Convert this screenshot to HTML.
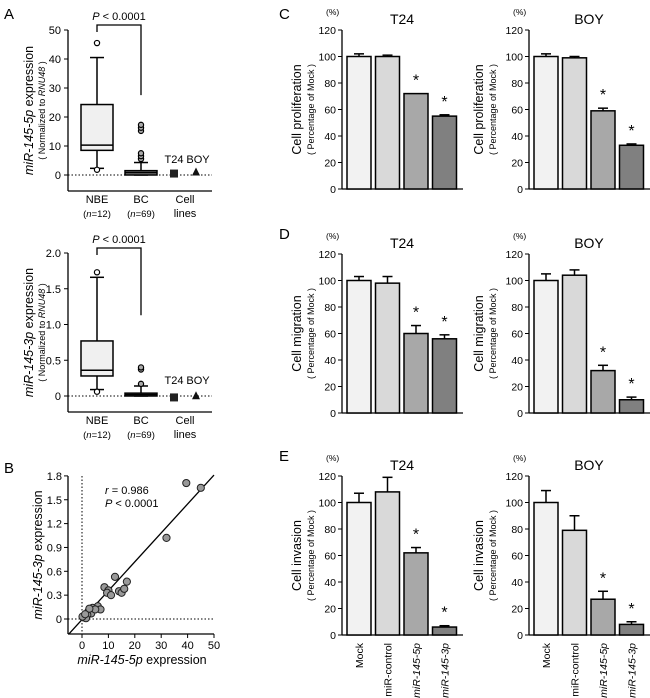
<!DOCTYPE html>
<html><head><meta charset="utf-8"><style>
body{margin:0;background:#fff}
svg{display:block;font-family:"Liberation Sans",Arial,sans-serif}
</style></head><body>
<svg id="fig" width="650" height="698" viewBox="0 0 650 698">
<text x="4" y="19" font-size="15">A</text>
<text x="4" y="473" font-size="15">B</text>
<text x="279" y="19" font-size="15">C</text>
<text x="279" y="239" font-size="15">D</text>
<text x="279" y="461" font-size="15">E</text>
</svg>
<script>
// ---- Panel A data ----
const boxGroups = ['NBE','BC'];
const box5p = [[2.3,8.5,10.3,24.3,40.5],[0,0,0.8,1.5,4.3]];
const outl5p = [[45.5,1.8],[5.5,6.5,7.5,15.2,16.3,17.3]];
const box3p = [[0.09,0.28,0.36,0.77,1.66],[0,0,0.02,0.04,0.14]];
const outl3p = [[1.73,0.06],[0.17,0.37,0.4]];
const cell5p = [0.5,1.2];
const cell3p = [-0.02,0.01];
const ticks5p = [0,10,20,30,40,50];
const ticks3p = ['0','0.5','1.0','1.5','2.0'];
// ---- Panel B data ----
const scatX = [39.5,45,32,12.5,8.5,10,9.5,11,14,15,16,17,6,7,4,3,2.5,3.5,2,1,0.5,1.5,0.2,5,2.8,1.2];
const scatY = [1.71,1.65,1.02,0.53,0.40,0.36,0.33,0.30,0.35,0.33,0.38,0.47,0.16,0.12,0.14,0.12,0.10,0.07,0.05,0.03,0.02,0.01,0.03,0.12,0.13,0.06];
const scatXTicks = [0,10,20,30,40,50];
const scatYTicks = ['0','0.3','0.6','0.9','1.2','1.5','1.8'];
// ---- Panels C-E data ----
const barCats = ['Mock','miR-control','miR-145-5p','miR-145-3p'];
const barTicks = [0,20,40,60,80,100,120];
const profT24 = [100,100,72,55], profT24Err = [2,1,0,1];
const profBOY = [100,99,59,33], profBOYErr = [2,1,2,1];
const migT24 = [100,98,60,56], migT24Err = [3,5,6,3];
const migBOY = [100,104,32,10], migBOYErr = [5,4,4,2];
const invT24 = [100,108,62,6], invT24Err = [7,11,4,1];
const invBOY = [100,79,27,8], invBOYErr = [9,11,6,2];
const starFlags = [0,0,1,1];

const NS='http://www.w3.org/2000/svg';
const svg=document.getElementById('fig');
function mk(tag,attrs,parent){const e=document.createElementNS(NS,tag);for(const k in attrs)e.setAttribute(k,attrs[k]);(parent||svg).appendChild(e);return e;}
function txt(x,y,s,size,anchor,parent,extra){const t=mk('text',Object.assign({x:x,y:y,'font-size':size,'text-anchor':anchor||'start'},extra||{}),parent);t.innerHTML=s;return t;}

// ---- Box panel ----
function boxPanel(name,top,y0,yMax,yTop,ticks,tickVals,boxes,outs,cells,ylab){
  const g=mk('g',{});
  
  
  const ax=68, axEnd=212, y0px=y0, yTopPx=yTop;
  const Y=v=>y0px-(v/yMax)*(y0px-yTopPx);
  const xc=[97,141];
  const axisBottom=y0px+16;
  mk('line',{x1:ax,y1:yTopPx,x2:ax,y2:axisBottom,stroke:'#000','stroke-width':1.3},g);
  mk('line',{x1:ax,y1:axisBottom,x2:axEnd,y2:axisBottom,stroke:'#000','stroke-width':1.3},g);
  tickVals.forEach((v,i)=>{const y=Y(v);
    const tk=mk('line',{x1:ax-4,y1:y,x2:ax,y2:y,stroke:'#000'},g);
    
    
    txt(ax-7,y+4,ticks[i],11,'end',g);});
  mk('line',{x1:ax,y1:Y(0),x2:axEnd,y2:Y(0),stroke:'#000','stroke-dasharray':'1.5,2'},g);
  boxes.forEach((b,i)=>{const c=xc[i],w=16;
    const bg=mk('g',{},g);
    
    
    mk('line',{x1:c,y1:Y(b[0]),x2:c,y2:Y(b[4]),stroke:'#000','stroke-width':1.5},bg);
    mk('line',{x1:c-7,y1:Y(b[4]),x2:c+7,y2:Y(b[4]),stroke:'#000','stroke-width':1.5},bg);
    mk('line',{x1:c-7,y1:Y(b[0]),x2:c+7,y2:Y(b[0]),stroke:'#000','stroke-width':1.5},bg);
    mk('rect',{x:c-w,y:Y(b[3]),width:2*w,height:Math.max(Y(b[1])-Y(b[3]),2.5),fill:i?'#888':'#f0f0f0',stroke:'#000','stroke-width':1.5},bg);
    mk('line',{x1:c-w,y1:Y(b[2]),x2:c+w,y2:Y(b[2]),stroke:i?'#000':'#000','stroke-width':1.5},bg);
    outs[i].forEach(v=>{const o=mk('circle',{cx:c,cy:Y(v),r:2.6,fill:i?'#aaa':'#fff',stroke:'#000','stroke-width':1.2},bg);
      
      });
  });
  const sq=mk('rect',{x:170,y:Y(cells[0])-4,width:8,height:8,fill:'#222'},g);
  
  
  const tri=mk('polygon',{points:`192,${Y(cells[1])+4} 200,${Y(cells[1])+4} 196,${Y(cells[1])-4}`,fill:'#111'},g);
  
  
  txt(174,Y(0)-12,'T24',11,'middle',g);
  txt(198,Y(0)-12,'BOY',11,'middle',g);
  const bt=yTopPx-5;
  mk('polyline',{points:`${xc[0]},${yTopPx+2} ${xc[0]},${bt} ${xc[1]},${bt} ${xc[1]},${Y(boxes[0][4]*0.68)}`,fill:'none',stroke:'#000','stroke-width':1.3},g);
  txt(119,bt-5,'<tspan font-style="italic">P</tspan> &lt; 0.0001',11,'middle',g);
  const lb=axisBottom+12;
  txt(97,lb,'NBE',11,'middle',g);txt(97,lb+14,'(<tspan font-style="italic">n</tspan>=12)',9.5,'middle',g);
  txt(141,lb,'BC',11,'middle',g);txt(141,lb+14,'(<tspan font-style="italic">n</tspan>=69)',9.5,'middle',g);
  txt(185,lb,'Cell',11,'middle',g);txt(185,lb+14,'lines',11,'middle',g);
  const cy=(yTopPx+axisBottom)/2;
  txt(0,0,'<tspan font-style="italic">'+ylab+'</tspan> expression',12.5,'middle',g,{transform:`translate(33,${cy}) rotate(-90)`});
  txt(0,0,'( Normalized to <tspan font-style="italic">RNU48</tspan> )',9,'middle',g,{transform:`translate(45,${cy}) rotate(-90)`});
}
boxPanel('box-plot-5p',0,175,50,30,ticks5p.map(String),ticks5p,box5p,outl5p,cell5p,'miR-145-5p');
boxPanel('box-plot-3p',0,396,2.0,253,ticks3p,ticks3p.map(Number),box3p,outl3p,cell3p,'miR-145-3p');

// ---- Scatter ----
(function(){
  const g=mk('g',{});
  
  
  const X=v=>82+v*2.64, Y=v=>619-v*79.5;
  const axY=634, axX=68;
  mk('line',{x1:axX,y1:476,x2:axX,y2:axY,stroke:'#000','stroke-width':1.3},g);
  mk('line',{x1:axX,y1:axY,x2:X(50),y2:axY,stroke:'#000','stroke-width':1.3},g);
  scatYTicks.forEach(t=>{const y=Y(+t);mk('line',{x1:axX-4,y1:y,x2:axX,y2:y,stroke:'#000'},g);txt(axX-6,y+4,t,11,'end',g);});
  scatXTicks.forEach(t=>{const x=X(t);mk('line',{x1:x,y1:axY,x2:x,y2:axY+4,stroke:'#000'},g);txt(x,axY+15,String(t),11,'middle',g);});
  mk('line',{x1:X(0),y1:476,x2:X(0),y2:axY,stroke:'#000','stroke-dasharray':'1.5,2'},g);
  mk('line',{x1:axX,y1:Y(0),x2:X(50),y2:Y(0),stroke:'#000','stroke-dasharray':'1.5,2'},g);
  const rl=mk('line',{x1:X(-5),y1:Y(-0.19),x2:X(50),y2:Y(1.81),stroke:'#000','stroke-width':1.3},g);
  
  
  scatX.forEach((v,i)=>{const c=mk('circle',{cx:X(v),cy:Y(scatY[i]),r:3.6,fill:'#999',stroke:'#222','stroke-width':1},g);
    
    });
  txt(105,494,'<tspan font-style="italic">r</tspan> = 0.986',11,'start',g);
  txt(105,507,'<tspan font-style="italic">P</tspan> &lt; 0.0001',11,'start',g);
  txt(142,664,'<tspan font-style="italic">miR-145-5p</tspan>  expression',12.5,'middle',g);
  txt(0,0,'<tspan font-style="italic">miR-145-3p</tspan>  expression',12.5,'middle',g,{transform:'translate(42,555) rotate(-90)'});
})();

// ---- Bar charts ----
const fills=['#f2f2f2','#d9d9d9','#a8a8a8','#808080'];
function barChart(name,ax,y0,title,vals,errs,ylab,labOff,showCats){
  const g=mk('g',{});
  
  
  const top=y0-159, Y=v=>y0-v*159/120;
  mk('line',{x1:ax,y1:top,x2:ax,y2:y0,stroke:'#000','stroke-width':1.3},g);
  mk('line',{x1:ax,y1:y0,x2:ax+121,y2:y0,stroke:'#000','stroke-width':1.3},g);
  barTicks.forEach(t=>{const y=Y(t);mk('line',{x1:ax-4,y1:y,x2:ax,y2:y,stroke:'#000'},g);txt(ax-6,y+4,String(t),10.5,'end',g);});
  txt(ax-16,top-15,'(%)',8.5,'start',g);
  txt(ax+60,top-6,title,14,'middle',g);
  vals.forEach((v,i)=>{const x=ax+5+i*28.5,w=24;
    if(errs[i]>0){mk('line',{x1:x+w/2,y1:Y(v),x2:x+w/2,y2:Y(v+errs[i]),stroke:'#000','stroke-width':1.5},g);
      mk('line',{x1:x+w/2-5,y1:Y(v+errs[i]),x2:x+w/2+5,y2:Y(v+errs[i]),stroke:'#000','stroke-width':1.5},g);}
    const r=mk('rect',{x:x,y:Y(v),width:w,height:y0-Y(v),fill:fills[i],stroke:'#000','stroke-width':1.5},g);
    
    
    if(starFlags[i])txt(x+w/2,Y(v+errs[i])-8,'*',16,'middle',g);
    if(showCats){const lbl=barCats[i].startsWith('miR-145')?'<tspan font-style="italic">'+barCats[i]+'</tspan>':barCats[i];
      txt(0,0,lbl,10.5,'end',g,{transform:`translate(${x+w/2+4},${y0+8}) rotate(-90)`});}
  });
  const cy=(top+y0)/2;
  txt(0,0,ylab,12.5,'middle',g,{transform:`translate(${ax-labOff},${cy}) rotate(-90)`});
  txt(0,0,'( Percentage of Mock )',9,'middle',g,{transform:`translate(${ax-labOff+13},${cy}) rotate(-90)`});
}
barChart('prolif-t24',342,189,'T24',profT24,profT24Err,'Cell proliferation',41,false);
barChart('prolif-boy',529,189,'BOY',profBOY,profBOYErr,'Cell proliferation',46,false);
barChart('migr-t24',342,413,'T24',migT24,migT24Err,'Cell migration',41,false);
barChart('migr-boy',529,413,'BOY',migBOY,migBOYErr,'Cell migration',46,false);
barChart('inv-t24',342,635,'T24',invT24,invT24Err,'Cell invasion',41,true);
barChart('inv-boy',529,635,'BOY',invBOY,invBOYErr,'Cell invasion',46,true);
</script>
</body></html>
